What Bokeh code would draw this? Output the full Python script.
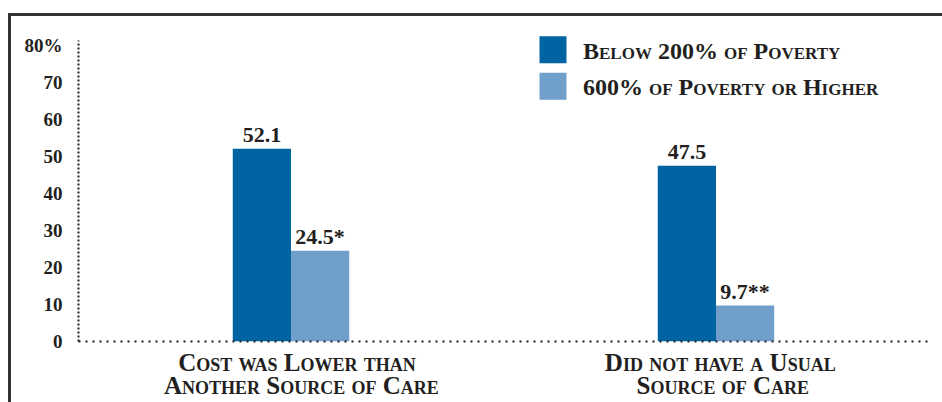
from bokeh.plotting import figure
from bokeh.models import ColumnDataSource, FactorRange, FixedTicker
from bokeh.transform import dodge
from bokeh.core.properties import value
from bokeh.embed import file_html
from bokeh.resources import INLINE

# Data
categories = ["Cost was Lower than\nAnother Source of Care",
              "Did not have a Usual\nSource of Care"]
below_200 = [52.1, 47.5]
above_600 = [24.5, 9.7]
below_200_labels = ["52.1", "47.5"]
above_600_labels = ["24.5*", "9.7**"]
series_names = ["Below 200% of Poverty", "600% of Poverty or Higher"]
y_ticks = [0, 10, 20, 30, 40, 50, 60, 70, 80]
y_tick_labels = {80: "80%"}

DARK = "#0063a2"
LIGHT = "#6f9fca"
INK = "#231f20"
FRAME = "#333333"
FONT = "Liberation Serif"

source = ColumnDataSource(dict(
    cat=categories,
    below=below_200,
    above=above_600,
    below_lbl=below_200_labels,
    above_lbl=above_600_labels,
))

p = figure(
    width=942, height=402,
    x_range=FactorRange(*categories),
    y_range=(0, 92.12),
    output_backend="svg", toolbar_location=None,
    min_border_left=78, min_border_right=14,
    min_border_top=0, min_border_bottom=60,
    outline_line_color=None,
    background_fill_color=None, border_fill_color=None,
)
# small-caps lettering and the page rule lines along the top and left
p.styles = {
    "font-variant": "small-caps",
    "background-image": f"linear-gradient({FRAME},{FRAME}), linear-gradient({FRAME},{FRAME})",
    "background-size": "934px 3px, 3px 389px",
    "background-position": "8px 13px, 8px 13px",
    "background-repeat": "no-repeat",
}

bw = 0.137
p.vbar(x=dodge("cat", -bw / 2, range=p.x_range), top="below", width=bw,
       source=source, fill_color=DARK, line_color=None)
p.vbar(x=dodge("cat", bw / 2, range=p.x_range), top="above", width=bw,
       source=source, fill_color=LIGHT, line_color=None)

# value labels above the bars
for col, lbl, off in (("below", "below_lbl", -bw / 2), ("above", "above_lbl", bw / 2)):
    p.text(x=dodge("cat", off, range=p.x_range), y=col, text=lbl, source=source,
           text_align="center", text_baseline="alphabetic", y_offset=-14,
           text_font=value(FONT), text_font_style="bold",
           text_font_size="22px", text_color=INK)

# key in the upper right: swatches and their names
key = ColumnDataSource(dict(
    x=[1.1165, 1.1165],
    y=[78.79, 68.94],
    color=[DARK, LIGHT],
    name=series_names,
))
p.rect(x="x", y="y", width=27, height=27, width_units="screen", height_units="screen",
       fill_color="color", line_color=None, source=key)
p.text(x="x", y="y", text="name", source=key, x_offset=30, y_offset=1,
       text_align="left", text_baseline="middle",
       text_font=value(FONT), text_font_style="bold",
       text_font_size="24px", text_color=INK)

# axes
p.grid.visible = False
p.yaxis.ticker = FixedTicker(ticks=y_ticks)
p.yaxis.bounds = (0, 81.3)
p.yaxis.major_label_overrides = y_tick_labels
p.yaxis.major_tick_line_color = None
p.yaxis.minor_tick_line_color = None
p.yaxis.axis_line_color = INK
p.yaxis.axis_line_width = 2
p.yaxis.axis_line_dash = "2 2"
p.yaxis.major_label_standoff = 10
p.yaxis.major_label_text_font = FONT
p.yaxis.major_label_text_font_style = "bold"
p.yaxis.major_label_text_font_size = "19px"
p.yaxis.major_label_text_color = INK

p.xaxis.major_tick_line_color = None
p.xaxis.axis_line_color = INK
p.xaxis.axis_line_width = 2
p.xaxis.axis_line_dash = "2 5"
p.xaxis.major_label_standoff = 1
p.xaxis.major_label_text_font = FONT
p.xaxis.major_label_text_font_style = "bold"
p.xaxis.major_label_text_font_size = "25px"
p.xaxis.major_label_text_line_height = 0.88
p.xaxis.major_label_text_color = INK

open("out.html", "w").write(file_html(p, INLINE))
